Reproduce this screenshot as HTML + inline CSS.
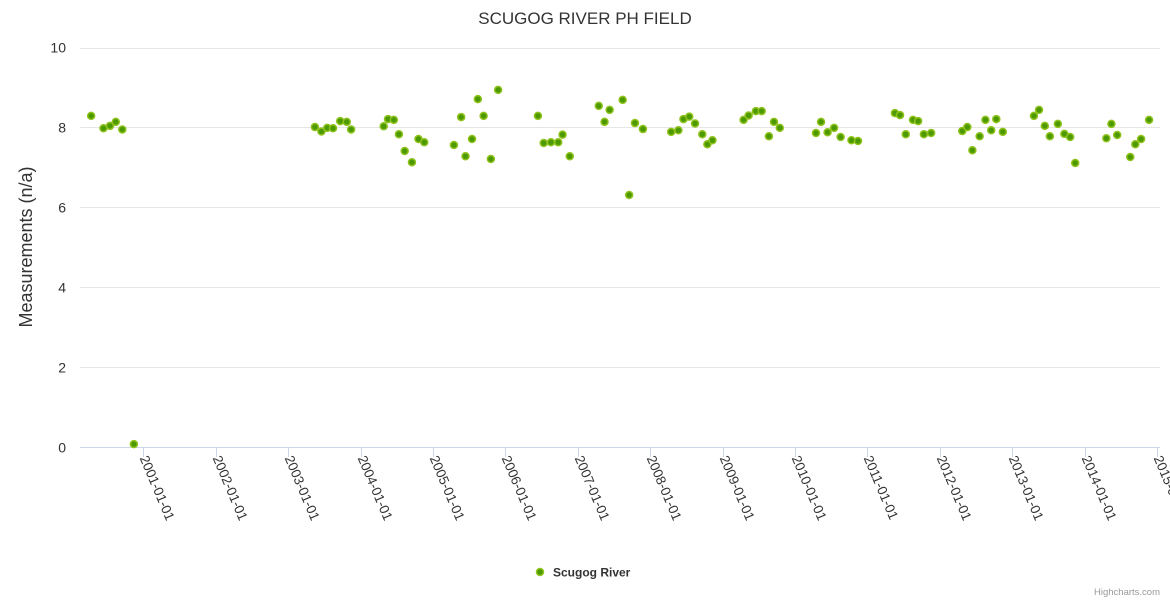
<!DOCTYPE html>
<html><head><meta charset="utf-8"><style>
html,body{margin:0;padding:0;background:#fff;}
svg{display:block;font-family:"Liberation Sans",sans-serif;}
</style></head><body>
<svg id="chart" width="1170" height="600">
<rect x="0" y="0" width="1170" height="600" fill="#fff"/>
<text x="585" y="24" text-anchor="middle" font-size="17" fill="#333">SCUGOG RIVER PH FIELD</text>
<g id="grid"></g>
<g id="xaxis"></g>
<g id="yaxis"></g>
<text transform="translate(32,247) rotate(-90)" text-anchor="middle" font-size="18" fill="#333">Measurements (n/a)</text>
<g id="points"></g>
<g>
<circle cx="540" cy="572" r="3.5" fill="#4c9a00" stroke="#8fc21c" stroke-width="1.5"/>
<text x="553" y="576.5" font-size="12" font-weight="bold" fill="#333">Scugog River</text>
</g>
<text x="1160" y="595" text-anchor="end" font-size="9.5" fill="#999">Highcharts.com</text>
</svg>
<script>
const years = [2000.28,2000.45,2000.54,2000.62,2000.71,2000.87,
2003.37,2003.46,2003.54,2003.62,2003.72,2003.81,2003.87,
2004.32,2004.38,2004.46,2004.53,2004.61,2004.71,2004.80,2004.88,
2005.29,2005.39,2005.45,2005.54,2005.62,2005.70,2005.80,2005.90,
2006.45,2006.53,2006.63,2006.73,2006.79,2006.89,
2007.29,2007.37,2007.44,2007.62,2007.71,2007.79,2007.90,
2008.29,2008.39,2008.46,2008.54,2008.62,2008.72,2008.79,2008.86,
2009.29,2009.36,2009.46,2009.54,2009.64,2009.71,2009.79,
2010.29,2010.36,2010.45,2010.54,2010.63,2010.78,2010.87,
2011.38,2011.45,2011.53,2011.63,2011.70,2011.78,2011.88,
2012.31,2012.38,2012.45,2012.55,2012.63,2012.71,2012.78,2012.87,
2013.30,2013.37,2013.45,2013.52,2013.63,2013.72,2013.80,2013.87,
2014.30,2014.37,2014.45,2014.63,2014.70,2014.78,2014.89];
const values = [8.29,7.98,8.04,8.14,7.95,0.08,
8.01,7.90,7.99,7.98,8.16,8.14,7.95,
8.03,8.21,8.19,7.83,7.41,7.13,7.71,7.63,
7.56,8.26,7.28,7.71,8.71,8.29,7.21,8.94,
8.29,7.61,7.63,7.63,7.82,7.28,
8.54,8.14,8.44,8.69,6.31,8.11,7.96,
7.89,7.93,8.21,8.27,8.10,7.83,7.58,7.68,
8.19,8.30,8.41,8.41,7.78,8.14,7.99,
7.86,8.14,7.88,7.99,7.76,7.68,7.66,
8.36,8.31,7.83,8.19,8.16,7.83,7.86,
7.91,8.01,7.43,7.78,8.19,7.93,8.21,7.89,
8.29,8.44,8.04,7.78,8.09,7.84,7.76,7.11,
7.73,8.09,7.81,7.26,7.58,7.71,8.19];
const yTicks = [0,2,4,6,8,10];
const xTickYears = [2001,2002,2003,2004,2005,2006,2007,2008,2009,2010,2011,2012,2013,2014,2015];

const NS='http://www.w3.org/2000/svg';
const L=80,R=1160,T=47.5,B=447.3;
function xs(yr){return 143.3+(yr-2001)*72.41;}
function ys(v){return B-(v/10)*(B-T);}
function mk(tag,attrs,parent){const e=document.createElementNS(NS,tag);for(const k in attrs)e.setAttribute(k,attrs[k]);parent.appendChild(e);return e;}

const grid=document.getElementById('grid'),ya=document.getElementById('yaxis'),xa=document.getElementById('xaxis'),pts=document.getElementById('points');
yTicks.forEach(v=>{
  const y=Math.round(ys(v))+0.5;
  if(v>0){const g=mk('line',{x1:L,x2:R,y1:y,y2:y,stroke:'#e6e6e6','stroke-width':1},grid);
  
  }
  const t=mk('text',{x:66,y:ys(v)+5,'text-anchor':'end','font-size':14,fill:'#333'},ya);
  t.textContent=v;
  
  
});
const ax=mk('line',{x1:L,x2:R,y1:447.5,y2:447.5,stroke:'#ccd6eb','stroke-width':1},xa);


xTickYears.forEach(yr=>{
  const x=Math.round(xs(yr))+0.5;
  const tk=mk('line',{x1:x,x2:x,y1:447.5,y2:457,stroke:'#ccd6eb','stroke-width':1},xa);
  
  
  const t=mk('text',{transform:'translate('+(x-4)+',458) rotate(67)','font-size':13.5,fill:'#333'},xa);
  t.textContent=yr+'-01-01';
  
  
});
years.forEach((yr,i)=>{
  const c=mk('circle',{cx:xs(yr),cy:ys(values[i]),r:3.5,fill:'#4c9a00',stroke:'#8fc21c','stroke-width':1.5},pts);
  
  
});
</script>
</body></html>
